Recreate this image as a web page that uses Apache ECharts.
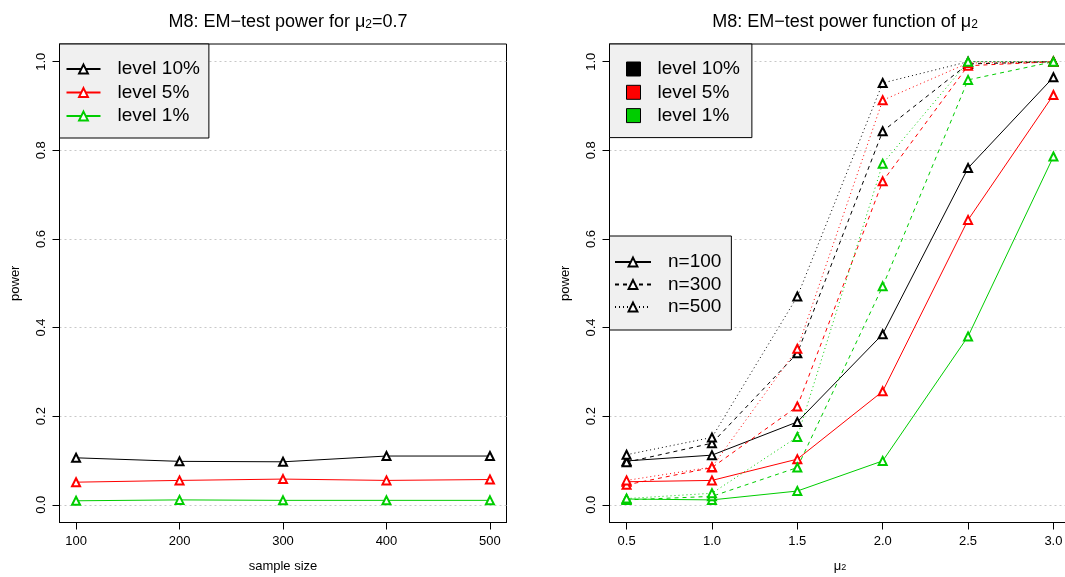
<!DOCTYPE html>
<html>
<head>
<meta charset="utf-8">
<script src="https://cdn.jsdelivr.net/npm/echarts@6/dist/echarts.min.js"></script>
<style>
html,body{margin:0;padding:0;background:#fff;}
#chart{width:1065px;height:577px;}
</style>
</head>
<body>
<div id="chart"></div>
<script>
// ---- data ----
const sampleSizes = [100, 200, 300, 400, 500];
const leftLevel10 = [0.106, 0.098, 0.097, 0.110, 0.110];
const leftLevel5  = [0.051, 0.055, 0.058, 0.055, 0.057];
const leftLevel1  = [0.009, 0.011, 0.010, 0.010, 0.010];

const mu2Values = [0.5, 1.0, 1.5, 2.0, 2.5, 3.0];
const n100Level10 = [0.099, 0.112, 0.187, 0.385, 0.760, 0.965];
const n100Level5  = [0.052, 0.055, 0.103, 0.256, 0.643, 0.925];
const n100Level1  = [0.013, 0.011, 0.031, 0.099, 0.380, 0.786];
const n300Level10 = [0.096, 0.139, 0.342, 0.843, 0.995, 1.000];
const n300Level5  = [0.045, 0.084, 0.222, 0.730, 0.991, 1.000];
const n300Level1  = [0.011, 0.019, 0.084, 0.493, 0.959, 1.000];
const n500Level10 = [0.113, 0.152, 0.470, 0.952, 1.000, 1.000];
const n500Level5  = [0.055, 0.085, 0.352, 0.913, 0.997, 1.000];
const n500Level1  = [0.014, 0.026, 0.153, 0.770, 1.000, 1.000];

const yTicks = [0, 0.2, 0.4, 0.6, 0.8, 1.0];
const leftXTicks = [100, 200, 300, 400, 500];
const rightXTicks = [0.5, 1.0, 1.5, 2.0, 2.5, 3.0];
const levelNames = ['level 10%', 'level 5%', 'level 1%'];
const sizeNames = ['n=100', 'n=300', 'n=500'];

// ---- styles ----
const FONT = 'Liberation Sans, Arial, Helvetica, sans-serif';
const colors = ['#000000', '#ff0000', '#00cd00'];
const dashes = ['solid', [4, 4], [1, 3]];

function pair(xs, ys) { return xs.map((x, i) => [x, ys[i]]); }

function yAxisDef(gridIndex) {
  return {
    type: 'value', gridIndex: gridIndex, min: -0.04, max: 1.04,
    name: 'power', nameLocation: 'middle', nameGap: 38,
    nameTextStyle: { fontFamily: FONT, fontSize: 13, color: '#000' },
    axisLine: { show: true, lineStyle: { color: '#000', width: 1 } },
    axisTick: { show: true, length: 7, customValues: yTicks, lineStyle: { color: '#000' } },
    axisLabel: { customValues: yTicks, rotate: 90, margin: 12, fontFamily: FONT, fontSize: 13, color: '#000',
                 formatter: v => v.toFixed(1) },
    splitLine: { show: true, lineStyle: { color: '#c8c8c8', type: [2, 3], width: 1 } }
  };
}

function xAxisDef(gridIndex, min, max, ticks, name, fmt, nameRich) {
  return {
    type: 'value', gridIndex: gridIndex, min: min, max: max,
    name: name, nameLocation: 'middle', nameGap: 37,
    nameTextStyle: { fontFamily: FONT, fontSize: 13, color: '#000', rich: nameRich },
    axisLine: { show: true, onZero: false, lineStyle: { color: '#000', width: 1 } },
    axisTick: { show: true, length: 7, customValues: ticks, lineStyle: { color: '#000' } },
    axisLabel: { customValues: ticks, margin: 12, fontFamily: FONT, fontSize: 13, color: '#000', formatter: fmt },
    splitLine: { show: false }
  };
}

const series = [];
// left panel
[leftLevel10, leftLevel5, leftLevel1].forEach((vals, i) => {
  series.push({
    name: levelNames[i], type: 'line', xAxisIndex: 0, yAxisIndex: 0,
    data: pair(sampleSizes, vals),
    symbol: 'emptyTriangle', symbolSize: 8, showAllSymbol: true,
    color: colors[i],
    itemStyle: { color: colors[i], borderColor: colors[i], borderWidth: 1 },
    lineStyle: { color: colors[i], width: 1, type: 'solid' },
    animation: false
  });
});
// right panel
const rightData = [
  [n100Level10, n100Level5, n100Level1],
  [n300Level10, n300Level5, n300Level1],
  [n500Level10, n500Level5, n500Level1]
];
rightData.forEach((group, s) => {
  group.forEach((vals, i) => {
    series.push({
      name: sizeNames[s] + ' ' + levelNames[i], type: 'line', xAxisIndex: 1, yAxisIndex: 1,
      data: pair(mu2Values, vals),
      symbol: 'emptyTriangle', symbolSize: 8,
      color: colors[i],
      itemStyle: { color: colors[i], borderColor: colors[i], borderWidth: 1 },
      lineStyle: { color: colors[i], width: 1, type: dashes[s] },
      animation: false
    });
  });
});
// legend-only series for n=...
sizeNames.forEach((nm, s) => {
  series.push({
    name: nm, type: 'line', xAxisIndex: 1, yAxisIndex: 1, data: [],
    symbol: 'emptyTriangle', symbolSize: 11, color: '#000',
    itemStyle: { color: '#000', borderColor: '#000', borderWidth: 1 },
    lineStyle: { color: '#000', width: 1, type: dashes[s] }
  });
});

const legendText = { fontFamily: FONT, fontSize: 19, color: '#000', lineHeight: 20, padding: [0, 0, 0, 12] };
const titleRich = {
  a: { fontFamily: FONT, fontSize: 18, color: '#000', lineHeight: 18 },
  s: { fontFamily: FONT, fontSize: 12, color: '#000', lineHeight: 7, verticalAlign: 'bottom' }
};
const axisRich = {
  a: { fontFamily: FONT, fontSize: 13, color: '#000', lineHeight: 13 },
  s: { fontFamily: FONT, fontSize: 9, color: '#000', lineHeight: 5, verticalAlign: 'bottom' }
};

const option = {
  animation: false,
  backgroundColor: '#ffffff',
  title: [
    { text: '{a|M8: EM\u2212test power for \u03bc}{s|2}{a|=0.7}', left: 283, top: 8, textAlign: 'center',
      textStyle: { fontFamily: FONT, fontSize: 18, fontWeight: 'normal', color: '#000', rich: titleRich } },
    { text: '{a|M8: EM\u2212test power function of \u03bc}{s|2}', left: 840, top: 8, textAlign: 'center',
      textStyle: { fontFamily: FONT, fontSize: 18, fontWeight: 'normal', color: '#000', rich: titleRich } }
  ],
  grid: [
    { left: 59.5, top: 44, width: 447, height: 478.5, show: true, borderColor: '#000', borderWidth: 1,
      backgroundColor: 'transparent', containLabel: false, outerBoundsMode: 'none' },
    { left: 609.5, top: 44, width: 461, height: 478.5, show: true, borderColor: '#000', borderWidth: 1,
      backgroundColor: 'transparent', containLabel: false, outerBoundsMode: 'none' }
  ],
  xAxis: [
    xAxisDef(0, 84, 516, leftXTicks, 'sample size', v => String(v)),
    xAxisDef(1, 0.4, 3.1, rightXTicks, '{a|\u03bc}{s|2}', v => v.toFixed(1), axisRich)
  ],
  yAxis: [yAxisDef(0), yAxisDef(1)],
  legend: [
    {
      data: levelNames, orient: 'vertical', left: 59.5, top: 44,
      itemWidth: 34, itemHeight: 11, itemGap: 3.5,
      padding: [15, 9, 12, 6],
      backgroundColor: '#f0f0f0', borderColor: '#000', borderWidth: 1, borderRadius: 0,
      textStyle: legendText, selectedMode: false
    },
    {
      data: levelNames.map((nm, i) => ({ name: nm, icon: 'rect',
        itemStyle: { color: colors[i], borderColor: '#000', borderWidth: 1 } })),
      orient: 'vertical', left: 609.5, top: 44,
      itemWidth: 14, itemHeight: 14, itemGap: 3.3,
      padding: [15, 12, 12, 16.5],
      backgroundColor: '#f0f0f0', borderColor: '#000', borderWidth: 1, borderRadius: 0,
      textStyle: legendText, selectedMode: false
    },
    {
      data: sizeNames, orient: 'vertical', left: 609.5, top: 236,
      itemWidth: 36, itemHeight: 11, itemGap: 2.5,
      padding: [16, 10, 13, 4.5],
      backgroundColor: '#f0f0f0', borderColor: '#000', borderWidth: 1, borderRadius: 0,
      textStyle: legendText, selectedMode: false
    }
  ],
  series: series
};

const chart = echarts.init(document.getElementById('chart'), null, { renderer: 'canvas' });
chart.setOption(option);
</script>
</body>
</html>
